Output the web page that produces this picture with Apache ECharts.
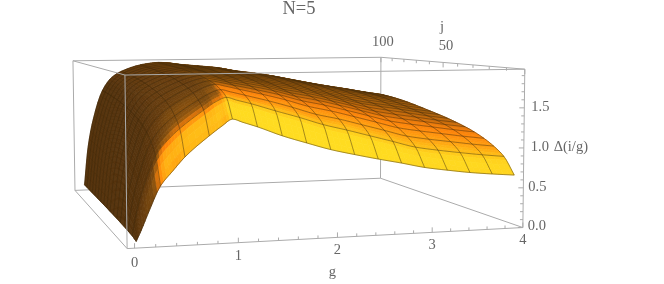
<!DOCTYPE html>
<html><head><meta charset="utf-8">
<style>html,body{margin:0;padding:0;background:#fff}#c{width:664px;height:284px}</style>
<script src="https://cdn.jsdelivr.net/npm/echarts@6/dist/echarts.min.js"></script>
</head><body><div id="c"></div>
<script>
// ---- data ----
const titleText = 'N=5';
const gValues = [.05,.1,.17,.29,.41,.53,.77,.9,1,1.1,1.25,1.5,1.75,2,2.25,2.5,2.75,3,3.25,3.5,3.75,4];
const jValues = [5,10.9,16.9,22.8,28.8,34.7,40.6,46.6,52.5,58.4,64.4,70.3,76.3,82.2,88.1,94.1,100];
const gMesh = [.05,.29,.53,.77,1,1.25,1.5,1.75,2,2.25,2.5,2.75,3,3.25,3.5,3.75,4];
const gap = [ // one line per g value, one entry per j value
[.03,.05,.056,.062,.065,.069,.07,.072,.074,.075,.076,.077,.078,.078,.079,.08,.08],
[.16,.346,.425,.479,.512,.54,.559,.576,.591,.603,.613,.621,.629,.636,.641,.646,.65],
[.36,.633,.748,.828,.878,.918,.946,.971,.993,1.011,1.025,1.038,1.05,1.059,1.067,1.074,1.08],
[.67,.992,1.129,1.223,1.282,1.329,1.363,1.392,1.417,1.439,1.456,1.471,1.484,1.496,1.505,1.513,1.52],
[.84,1.173,1.315,1.413,1.474,1.522,1.557,1.588,1.613,1.636,1.653,1.669,1.683,1.695,1.704,1.713,1.72],
[1.0,1.307,1.437,1.527,1.583,1.628,1.66,1.688,1.712,1.732,1.749,1.763,1.776,1.787,1.795,1.803,1.81],
[1.24,1.521,1.624,1.694,1.737,1.769,1.794,1.815,1.833,1.848,1.86,1.869,1.879,1.887,1.893,1.90,1.905],
[1.355,1.624,1.71,1.768,1.802,1.826,1.845,1.862,1.876,1.888,1.895,1.901,1.909,1.915,1.92,1.925,1.93],
[1.43,1.669,1.746,1.797,1.826,1.849,1.866,1.879,1.892,1.902,1.91,1.913,1.92,1.926,1.931,1.936,1.94],
[1.39,1.634,1.717,1.773,1.806,1.829,1.849,1.865,1.88,1.891,1.899,1.905,1.913,1.92,1.926,1.931,1.935],
[1.33,1.586,1.672,1.73,1.766,1.792,1.813,1.831,1.846,1.859,1.87,1.877,1.886,1.893,1.90,1.906,1.91],
[1.215,1.493,1.595,1.66,1.702,1.733,1.759,1.781,1.799,1.814,1.827,1.838,1.85,1.86,1.868,1.874,1.88],
[1.12,1.405,1.509,1.583,1.632,1.669,1.699,1.725,1.748,1.766,1.783,1.798,1.813,1.826,1.835,1.844,1.85],
[1.03,1.309,1.415,1.493,1.548,1.589,1.622,1.65,1.676,1.698,1.717,1.736,1.753,1.767,1.779,1.788,1.795],
[.96,1.234,1.348,1.427,1.485,1.529,1.564,1.595,1.622,1.646,1.668,1.689,1.708,1.724,1.737,1.747,1.755],
[.895,1.154,1.268,1.349,1.41,1.457,1.494,1.527,1.557,1.583,1.608,1.631,1.653,1.671,1.686,1.697,1.705],
[.835,1.074,1.188,1.269,1.332,1.38,1.419,1.454,1.486,1.513,1.539,1.566,1.589,1.609,1.624,1.636,1.645],
[.77,.993,1.106,1.188,1.253,1.303,1.344,1.381,1.414,1.442,1.472,1.50,1.526,1.547,1.564,1.577,1.585],
[.725,.945,1.057,1.138,1.202,1.251,1.291,1.328,1.361,1.389,1.419,1.446,1.471,1.492,1.509,1.522,1.53],
[.685,.904,1.016,1.095,1.158,1.207,1.246,1.282,1.314,1.342,1.371,1.398,1.422,1.443,1.459,1.472,1.48],
[.655,.867,.975,1.052,1.113,1.16,1.198,1.233,1.264,1.291,1.319,1.345,1.369,1.389,1.405,1.417,1.425],
[.63,.836,.94,1.015,1.074,1.12,1.157,1.191,1.221,1.247,1.274,1.299,1.323,1.342,1.358,1.369,1.377]
];
const gTicks = [0,1,2,3,4];
const jTicks = [50,100];
const zTicks = ['0.0','0.5','1.0','1.5'];
const gName = 'g', jName = 'j', zName = 'Δ(i/g)';

// ---- box range and its camera (corners measured on the page) ----
const gRange=[-.07,4], jRange=[0,100], zRange=[0,1.98];
const corners=[[0,0,0,127,248.3],[1,0,0,522.7,227.7],[0,1,0,75,190.7],[1,1,0,380.7,178],
               [0,0,1,125,75],[1,0,1,525,69.3],[0,1,1,73,60.7],[1,1,1,380.7,57.3]];
function solve(A,b){const n=b.length;const M=A.map((r,i)=>r.concat(b[i]));
  for(let i=0;i<n;i++){let p=i;for(let r=i+1;r<n;r++)if(Math.abs(M[r][i])>Math.abs(M[p][i]))p=r;
    [M[i],M[p]]=[M[p],M[i]];
    for(let r=0;r<n;r++)if(r!==i){const f=M[r][i]/M[i][i];for(let c=i;c<=n;c++)M[r][c]-=f*M[i][c];}}
  return M.map((r,i)=>r[n]/r[i]);}
const cam=(function(){const N=Array.from({length:11},()=>Array(11).fill(0)),R=Array(11).fill(0);
  const add=(row,y)=>{for(let a=0;a<11;a++){R[a]+=row[a]*y;for(let b=0;b<11;b++)N[a][b]+=row[a]*row[b];}};
  corners.forEach(([u,v,w,x,y])=>{
    add([u,v,w,1,0,0,0,0,-x*u,-x*v,-x*w],x);
    add([0,0,0,0,u,v,w,1,-y*u,-y*v,-y*w],y);});
  return solve(N,R);})();
function proj(g,j,z){const u=(g-gRange[0])/(gRange[1]-gRange[0]),v=(j-jRange[0])/(jRange[1]-jRange[0]),w=(z-zRange[0])/(zRange[1]-zRange[0]);
  const d=cam[8]*u+cam[9]*v+cam[10]*w+1;
  return [(cam[0]*u+cam[1]*v+cam[2]*w+cam[3])/d,(cam[4]*u+cam[5]*v+cam[6]*w+cam[7])/d];}

// ---- monotone cubic drawing curve between the read values ----
function slopes(x,y){const n=x.length,h=[],s=[];for(let i=0;i<n-1;i++){h[i]=x[i+1]-x[i];s[i]=(y[i+1]-y[i])/h[i];}
  const m=[s[0]];for(let i=1;i<n-1;i++){m[i]=s[i-1]*s[i]<=0?0:(3*(h[i-1]+h[i]))/((2*h[i]+h[i-1])/s[i-1]+(h[i]+2*h[i-1])/s[i]);}
  m[n-1]=s[n-2];return m;}
function curve(x,y,fine){const m=slopes(x,y);return fine.map(q=>{let i=0;while(i<x.length-2&&q>x[i+1])i++;
  const h=x[i+1]-x[i],t=(q-x[i])/h,t2=t*t,t3=t2*t;
  return (2*t3-3*t2+1)*y[i]+(t3-2*t2+t)*h*m[i]+(-2*t3+3*t2)*y[i+1]+(t3-t2)*h*m[i+1];});}
function refine(x,n){const o=[];for(let i=0;i<x.length-1;i++)for(let k=0;k<n;k++)o.push(x[i]+(x[i+1]-x[i])*k/n);o.push(x[x.length-1]);return o;}
const SUB=4;
const gFine=refine(gValues,SUB), jFine=refine(jValues,SUB);
const rowsOnG=jValues.map((_,k)=>curve(gValues,gValues.map((_,i)=>gap[i][k]),gFine));
const Z=gFine.map((_,a)=>curve(jValues,rowsOnG.map(r=>r[a]),jFine));

// ---- light on the sheet ----
const lightRise=.25, lightFall=.05, lightJ=.75, lightUp=.1, slopeScale=.5;
const ramp=[[-.15,[85,50,12]],[.05,[105,62,14]],[.135,[125,75,15]],[.15,[135,80,15]],[.2,[170,98,14]],[.225,[205,110,12]],[.26,[240,125,10]],[.3,[255,135,10]],[.34,[255,150,14]],[.42,[255,180,20]],[.52,[255,200,26]],[.62,[255,218,32]],[.75,[255,225,35]]];
function shade(i){if(i<=ramp[0][0])return ramp[0][1];for(let k=1;k<ramp.length;k++)if(i<=ramp[k][0]){const t=(i-ramp[k-1][0])/(ramp[k][0]-ramp[k-1][0]);
  return ramp[k][1].map((c,q)=>c+(ramp[k-1][1][q]-c)*(1-t));}return ramp[ramp.length-1][1];}
function cellColor(a,b){
  const zg=((Z[a+1][b]-Z[a][b])+(Z[a+1][b+1]-Z[a][b+1]))/2/(gFine[a+1]-gFine[a])*(gRange[1]-gRange[0])/zRange[1]*slopeScale;
  const zj=((Z[a][b+1]-Z[a][b])+(Z[a+1][b+1]-Z[a+1][b]))/2/(jFine[b+1]-jFine[b])*(jRange[1]-jRange[0])/zRange[1]*slopeScale;
  const L=Math.hypot(zg,zj,1);
  const c=shade((-zg*(zg>0?lightRise:lightFall)+zj*lightJ+lightUp)/L).map(Math.round);
  return 'rgb('+c.join(',')+')';}

// ---- marks ----
const cells=[];for(let b=jFine.length-2;b>=0;b--)for(let a=0;a<gFine.length-1;a++)cells.push([a,b]);
const meshLines=[];
gMesh.forEach(g=>{const a=gFine.findIndex(q=>Math.abs(q-g)<1e-6);meshLines.push(jFine.map((j,b)=>[g,j,Z[a][b]]));});
for(let b=0;b<jFine.length;b+=SUB)meshLines.push(gFine.map((g,a)=>[g,jFine[b],Z[a][b]]));

const [g0,g1]=gRange,[j0,j1]=jRange,[z0,z1]=zRange;
const edgesBack=[[[g0,j1,z1],[g1,j1,z1]],[[g0,j1,z0],[g0,j1,z1]],[[g1,j1,z0],[g1,j1,z1]],[[g0,j1,z0],[g1,j1,z0]],[[g0,j0,z0],[g0,j1,z0]],[[g1,j0,z0],[g1,j1,z0]]];
const edgesFront=[[[g0,j0,z0],[g0,j0,z1]],[[g0,j0,z1],[g1,j0,z1]],[[g0,j0,z1],[g0,j1,z1]],[[g1,j0,z1],[g1,j1,z1]],[[g1,j0,z0],[g1,j0,z1]],[[g0,j0,z0],[g1,j0,z0]]];
const ticks=[];
for(let i=0;i<=20;i++){const g=i/5;ticks.push([[g,j0,z0],[0,i%5===0?-5:-3]]);}
for(let i=0;i<=10;i++){ticks.push([[g1,i*10,z1],[0,i%5===0?5:3]]);}
for(let i=0;i<=19;i++){ticks.push([[g1,j0,i/10],[i%5===0?-5:-3,0]]);}

const labelFont='14.5px "Liberation Serif"', ink='#666666', boxInk='#ababab';
const labels=[];
gTicks.forEach(g=>labels.push({p:[g,j0,z0],dx:0,dy:g<1?15:g<2?14:12.5,text:String(g)}));
jTicks.forEach(j=>labels.push({p:[g1,j,z1],dx:j===100?2:3,dy:j===100?-15:-16,text:String(j)}));
zTicks.forEach(t=>labels.push({p:[g1,j0,+t],dx:t==='1.0'||t==='1.5'?16:14,dy:-1,text:t}));
labels.push({p:[g1,j0,1],dx:47,dy:-1,text:zName});
labels.push({p:[2,j0,z0],dx:-5,dy:35,text:gName});
labels.push({p:[g1,50,z1],dx:-1,dy:-35,text:jName});

function edgeSeries(list,z){return {type:'custom',coordinateSystem:'cartesian2d',z,silent:true,clip:false,data:list.map((_,i)=>[i,0]),
  renderItem(p,api){const e=list[p.dataIndex];
    return {type:'line',shape:{x1:api.coord(proj(...e[0]))[0],y1:api.coord(proj(...e[0]))[1],x2:api.coord(proj(...e[1]))[0],y2:api.coord(proj(...e[1]))[1]},style:{stroke:boxInk,lineWidth:1}};}};}

const chart=echarts.init(document.getElementById('c'),null,{renderer:'canvas'});
chart.setOption({
  animation:false,
  title:{text:titleText,left:299,top:0,padding:0,textAlign:'center',textStyle:{fontFamily:'Liberation Serif',fontWeight:'normal',fontSize:18.5,color:ink}},
  grid:{left:0,right:0,top:0,bottom:0},
  xAxis:{type:'value',min:0,max:664,show:false},
  yAxis:{type:'value',min:0,max:284,inverse:true,show:false},
  series:[
    edgeSeries(edgesBack,1),
    {type:'custom',coordinateSystem:'cartesian2d',z:2,silent:true,clip:false,data:cells,
     renderItem(p,api){const [a,b]=cells[p.dataIndex];
       const pts=[[a,b],[a+1,b],[a+1,b+1],[a,b+1]].map(([i,k])=>api.coord(proj(gFine[i],jFine[k],Z[i][k])));
       const c=cellColor(a,b);
       return {type:'polygon',shape:{points:pts},style:{fill:c,stroke:c,lineWidth:.7}};}},
    {type:'custom',coordinateSystem:'cartesian2d',z:3,silent:true,clip:false,data:meshLines.map((_,i)=>[i,0]),
     renderItem(p,api){const pts=meshLines[p.dataIndex].map(q=>api.coord(proj(...q)));
       return {type:'polyline',shape:{points:pts},style:{stroke:'rgba(60,40,12,.7)',lineWidth:.65,fill:null}};}},
    edgeSeries(edgesFront,4),
    {type:'custom',coordinateSystem:'cartesian2d',z:4,silent:true,clip:false,data:ticks.map((_,i)=>[i,0]),
     renderItem(p,api){const [q,o]=ticks[p.dataIndex];const c=api.coord(proj(...q));
       return {type:'line',shape:{x1:c[0],y1:c[1],x2:c[0]+o[0],y2:c[1]+o[1]},style:{stroke:boxInk,lineWidth:1}};}},
    {type:'custom',coordinateSystem:'cartesian2d',z:5,silent:true,clip:false,data:labels.map((_,i)=>[i,0]),
     renderItem(p,api){const l=labels[p.dataIndex];const c=api.coord(proj(...l.p));
       return {type:'text',style:{text:l.text,x:c[0]+l.dx,y:c[1]+l.dy,font:labelFont,fill:ink,align:'center',verticalAlign:'middle'}};}}
  ]
});
</script></body></html>
